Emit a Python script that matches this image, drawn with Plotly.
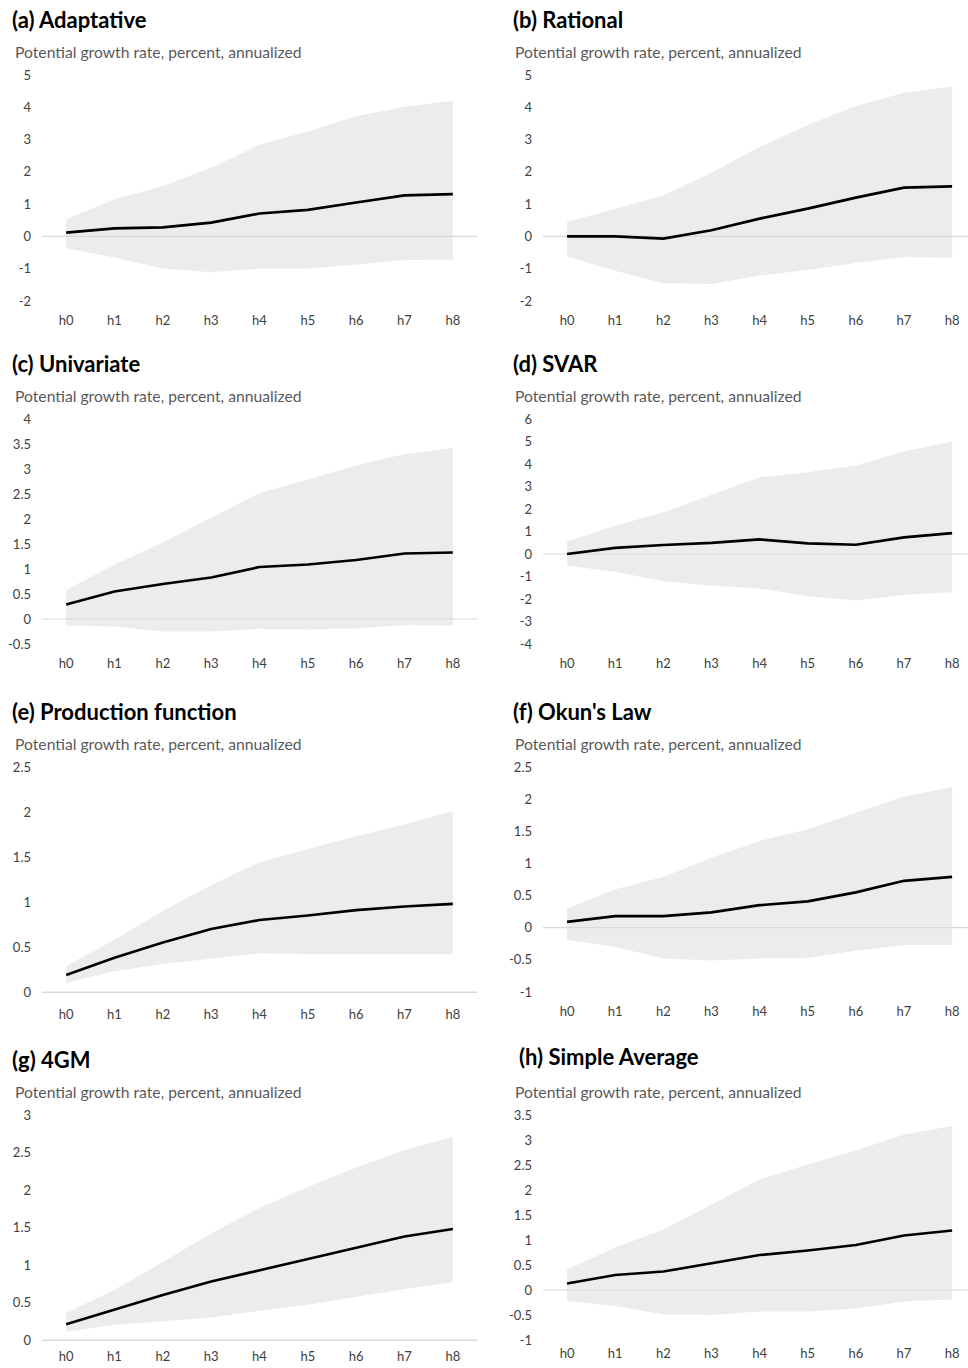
import plotly.graph_objects as go

# ---------------- data ----------------
horizons = ["h0", "h1", "h2", "h3", "h4", "h5", "h6", "h7", "h8"]
subtitle = "Potential growth rate, percent, annualized"

titles = ["(a) Adaptative", "(b) Rational", "(c) Univariate", "(d) SVAR",
          "(e) Production function", "(f) Okun's Law", "(g) 4GM", "(h) Simple Average"]

adaptative_mid = [0.12, 0.25, 0.28, 0.43, 0.71, 0.82, 1.05, 1.27, 1.31]
adaptative_hi = [0.53, 1.15, 1.56, 2.13, 2.84, 3.25, 3.72, 4.02, 4.20]
adaptative_lo = [-0.37, -0.65, -0.99, -1.11, -1.00, -0.99, -0.88, -0.73, -0.72]

rational_mid = [0.00, 0.00, -0.07, 0.19, 0.55, 0.86, 1.20, 1.51, 1.55]
rational_hi = [0.45, 0.86, 1.27, 1.97, 2.77, 3.45, 4.04, 4.45, 4.64]
rational_lo = [-0.62, -1.06, -1.45, -1.47, -1.21, -1.04, -0.82, -0.64, -0.66]

univariate_mid = [0.29, 0.55, 0.70, 0.83, 1.04, 1.09, 1.18, 1.31, 1.33]
univariate_hi = [0.58, 1.09, 1.53, 2.02, 2.52, 2.79, 3.07, 3.30, 3.42]
univariate_lo = [-0.13, -0.15, -0.25, -0.25, -0.20, -0.21, -0.19, -0.12, -0.13]

svar_mid = [0.00, 0.27, 0.40, 0.49, 0.65, 0.47, 0.41, 0.74, 0.93]
svar_hi = [0.56, 1.26, 1.85, 2.64, 3.41, 3.63, 3.93, 4.56, 5.00]
svar_lo = [-0.52, -0.79, -1.21, -1.41, -1.53, -1.88, -2.07, -1.81, -1.70]

prodfn_mid = [0.19, 0.38, 0.55, 0.70, 0.80, 0.85, 0.91, 0.95, 0.98]
prodfn_hi = [0.29, 0.58, 0.90, 1.19, 1.44, 1.59, 1.73, 1.86, 2.01]
prodfn_lo = [0.10, 0.23, 0.31, 0.37, 0.43, 0.42, 0.42, 0.42, 0.42]

okun_mid = [0.09, 0.18, 0.18, 0.24, 0.35, 0.41, 0.55, 0.73, 0.79]
okun_hi = [0.30, 0.60, 0.79, 1.09, 1.35, 1.53, 1.79, 2.04, 2.19]
okun_lo = [-0.19, -0.30, -0.48, -0.51, -0.48, -0.47, -0.36, -0.27, -0.27]

gm4_mid = [0.21, 0.41, 0.60, 0.78, 0.93, 1.09, 1.24, 1.38, 1.48]
gm4_hi = [0.36, 0.67, 1.04, 1.42, 1.76, 2.04, 2.30, 2.53, 2.71]
gm4_lo = [0.11, 0.20, 0.25, 0.30, 0.39, 0.47, 0.58, 0.68, 0.77]

avg_mid = [0.13, 0.30, 0.37, 0.53, 0.70, 0.79, 0.90, 1.09, 1.19]
avg_hi = [0.41, 0.85, 1.21, 1.71, 2.21, 2.51, 2.79, 3.11, 3.28]
avg_lo = [-0.22, -0.32, -0.49, -0.50, -0.43, -0.43, -0.37, -0.23, -0.19]

# y-axis tick values per panel (first and last = axis limits)
yticks_a = [-2, -1, 0, 1, 2, 3, 4, 5]
yticks_b = [-2, -1, 0, 1, 2, 3, 4, 5]
yticks_c = [-0.5, 0, 0.5, 1, 1.5, 2, 2.5, 3, 3.5, 4]
yticks_d = [-4, -3, -2, -1, 0, 1, 2, 3, 4, 5, 6]
yticks_e = [0, 0.5, 1, 1.5, 2, 2.5]
yticks_f = [-1, -0.5, 0, 0.5, 1, 1.5, 2, 2.5]
yticks_g = [0, 0.5, 1, 1.5, 2, 2.5, 3]
yticks_h = [-1, -0.5, 0, 0.5, 1, 1.5, 2, 2.5, 3, 3.5]

series = [
    (adaptative_mid, adaptative_lo, adaptative_hi, yticks_a),
    (rational_mid, rational_lo, rational_hi, yticks_b),
    (univariate_mid, univariate_lo, univariate_hi, yticks_c),
    (svar_mid, svar_lo, svar_hi, yticks_d),
    (prodfn_mid, prodfn_lo, prodfn_hi, yticks_e),
    (okun_mid, okun_lo, okun_hi, yticks_f),
    (gm4_mid, gm4_lo, gm4_hi, yticks_g),
    (avg_mid, avg_lo, avg_hi, yticks_h),
]

# ---------------- layout geometry (target pixels in the photographed picture) ----------------
W, H = 968, 1368
FONT = "Lato"
# the photographed page maps figure y to picture y as 8 + y*1352/1368; compensate
OFF, SCALE = 8, 1352 / 1368
col_x = [(42, 477), (543, 968)]
x_ranges = [[-0.5, 8.5], [-0.5, 8.33]]
row_y = [(75, 301), (419, 644), (767, 992), (1115, 1340)]
row_standoff = [10, 10, 10, 4]
title_pos = [(10, 19), (511, 19), (10, 363), (511, 363), (10, 711), (511, 711), (10, 1059), (517, 1056)]
sub_pos = [(13, 52), (513, 52), (13, 396), (513, 396), (13, 744), (513, 744), (13, 1092), (513, 1092)]


def fy(py):
    return 1 - ((py - OFF) / SCALE) / H


BAND = "#ececec"
ZERO = "#d9d9d9"
TICK = "#404040"

fig = go.Figure()
xs = list(range(len(horizons)))

for i, (mid, lo, hi, yt_vals) in enumerate(series):
    r, c = divmod(i, 2)
    suffix = "" if i == 0 else str(i + 1)
    xa, ya = "x" + suffix, "y" + suffix
    xr = x_ranges[c]

    fig.add_trace(go.Scatter(
        x=xs + xs[::-1], y=list(hi) + list(lo)[::-1],
        fill="toself", fillcolor=BAND, mode="lines", line=dict(width=0, color=BAND),
        hoverinfo="skip", showlegend=False, xaxis=xa, yaxis=ya))
    fig.add_trace(go.Scatter(
        x=[xr[0], xr[1] + 1], y=[0, 0], mode="lines",
        line=dict(color=ZERO, width=1.2), hoverinfo="skip", showlegend=False,
        xaxis=xa, yaxis=ya))
    fig.add_trace(go.Scatter(
        x=xs, y=mid, mode="lines", line=dict(color="black", width=2.7),
        showlegend=False, xaxis=xa, yaxis=ya))

    x0, x1 = col_x[c]
    ytop, ybot = row_y[r]
    fig.layout["xaxis" + suffix] = dict(
        domain=[x0 / W, x1 / W], range=xr, anchor=ya,
        tickmode="array", tickvals=xs, ticktext=horizons,
        showgrid=False, zeroline=False,
        showline=(yt_vals[0] == 0), linecolor=ZERO, linewidth=1,
        ticks="", ticklabelstandoff=row_standoff[r],
        tickfont=dict(family=FONT, size=13, color=TICK), fixedrange=True)
    fig.layout["yaxis" + suffix] = dict(
        domain=[fy(ybot), fy(ytop)], range=[yt_vals[0], yt_vals[-1]], anchor=xa,
        tickmode="array", tickvals=yt_vals, ticktext=["%g" % v for v in yt_vals],
        showgrid=False, zeroline=False, showline=False,
        ticks="", ticklabelstandoff=10,
        tickfont=dict(family=FONT, size=13, color=TICK), fixedrange=True)

    tx, ty = title_pos[i]
    fig.add_annotation(text="<b>" + titles[i] + "</b>", x=tx / W, y=fy(ty),
                       xref="paper", yref="paper", xanchor="left", yanchor="middle",
                       showarrow=False, font=dict(family=FONT, size=22, color="black"))
    sx, sy = sub_pos[i]
    fig.add_annotation(text=subtitle, x=sx / W, y=fy(sy),
                       xref="paper", yref="paper", xanchor="left", yanchor="middle",
                       showarrow=False, font=dict(family=FONT, size=15.7, color="#595959"))

fig.update_layout(
    width=W, height=H, margin=dict(l=0, r=0, t=0, b=0),
    paper_bgcolor="white", plot_bgcolor="white", showlegend=False,
    font=dict(family=FONT),
)

fig.write_html("out.html", config={"displayModeBar": False})
